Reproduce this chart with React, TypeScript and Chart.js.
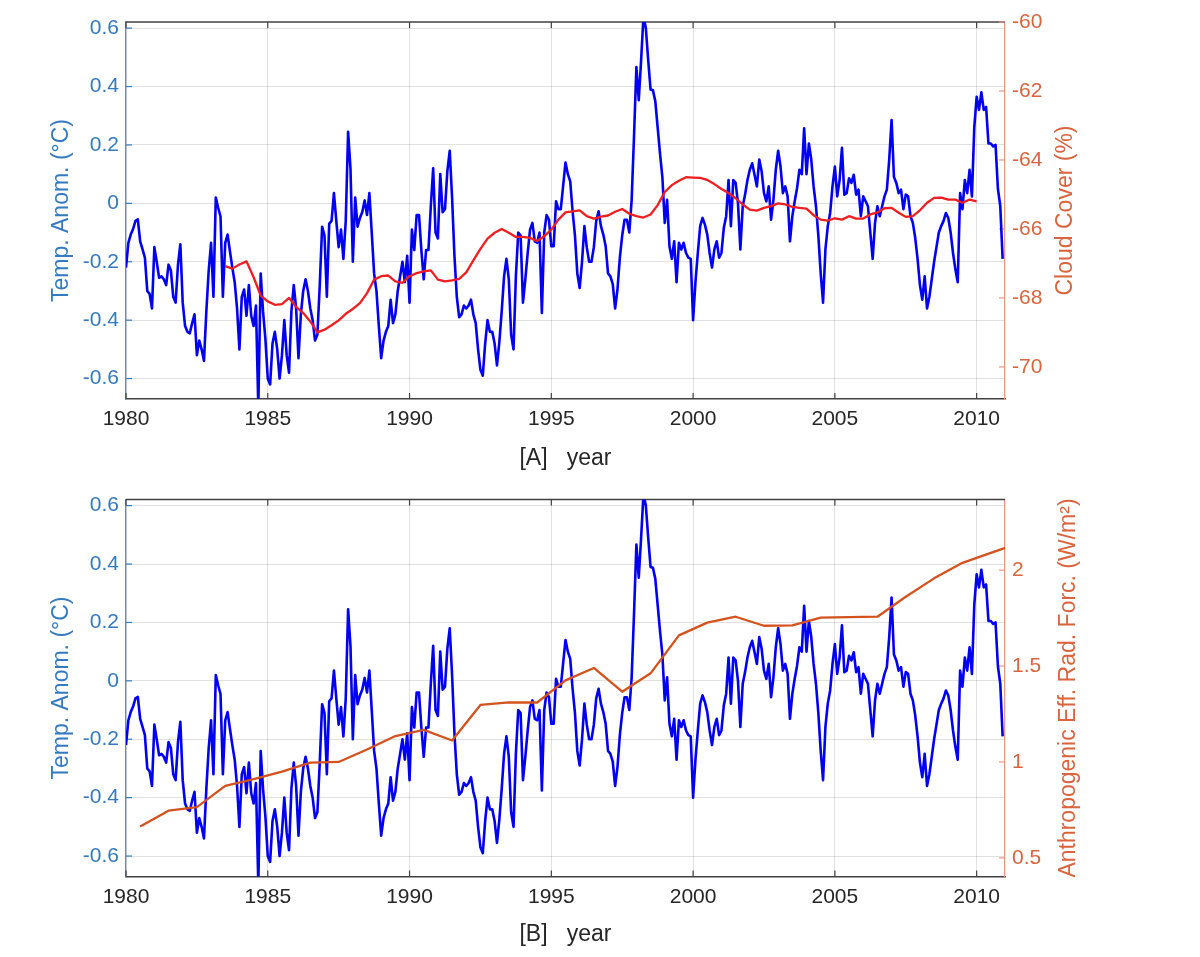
import { useEffect, useRef } from "react";
import { Chart, registerables } from "chart.js";

Chart.register(...registerables);

// Monthly global temperature anomaly (°C), Jan 1980 – Dec 2010
const FIRST_YEAR = 1980;
const tempAnomaly: number[] = [
  // 1980
  -0.22, -0.135, -0.107, -0.088, -0.06, -0.055, -0.13, -0.158, -0.186, -0.3, -0.31, -0.36,
  // 1981
  -0.15, -0.2, -0.255, -0.25, -0.26, -0.28, -0.21, -0.23, -0.32, -0.34, -0.21, -0.14,
  // 1982
  -0.34, -0.42, -0.44, -0.445, -0.41, -0.38, -0.52, -0.47, -0.5, -0.54, -0.37, -0.23,
  // 1983
  -0.135, -0.32, 0.02, -0.015, -0.045, -0.32, -0.135, -0.107, -0.165, -0.22, -0.27, -0.36,
  // 1984
  -0.5, -0.32, -0.295, -0.385, -0.28, -0.385, -0.42, -0.35, -0.7, -0.24, -0.37, -0.465,
  // 1985
  -0.6, -0.62, -0.48, -0.44, -0.5, -0.6, -0.52, -0.4, -0.52, -0.58, -0.37, -0.28,
  // 1986
  -0.36, -0.53, -0.38, -0.3, -0.26, -0.3, -0.36, -0.4, -0.47, -0.45, -0.28, -0.08,
  // 1987
  -0.11, -0.32, -0.07, -0.06, 0.035, -0.06, -0.15, -0.09, -0.19, -0.06, 0.245, 0.12,
  // 1988
  -0.2, 0.02, -0.08, -0.05, -0.03, 0.01, -0.04, 0.035, -0.1, -0.24, -0.3, -0.42,
  // 1989
  -0.53, -0.47, -0.44, -0.42, -0.33, -0.41, -0.38, -0.3, -0.25, -0.2, -0.27, -0.18,
  // 1990
  -0.34, -0.09, -0.16, -0.04, -0.04, -0.16, -0.26, -0.16, -0.16, -0.01, 0.12, -0.1,
  // 1991
  -0.12, 0.1, -0.03, -0.02, 0.11, 0.18, 0.02, -0.18, -0.32, -0.39, -0.38, -0.35,
  // 1992
  -0.36, -0.35, -0.33, -0.38, -0.41, -0.5, -0.57, -0.59, -0.48, -0.4, -0.44, -0.44,
  // 1993
  -0.48, -0.555, -0.475, -0.37, -0.25, -0.19, -0.26, -0.45, -0.5, -0.25, -0.1, -0.11,
  // 1994
  -0.34, -0.26, -0.17, -0.09, -0.067, -0.13, -0.135, -0.1, -0.375, -0.1, -0.04, -0.056,
  // 1995
  -0.147, -0.147, 0.007, -0.02, -0.02, 0.06, 0.14, 0.1, 0.075, -0.027, -0.11, -0.24,
  // 1996
  -0.29, -0.2, -0.078, -0.15, -0.2, -0.2, -0.15, -0.06, -0.027, -0.078, -0.107, -0.147,
  // 1997
  -0.24, -0.25, -0.277, -0.36, -0.295, -0.186, -0.11, -0.056, -0.056, -0.1, 0.012, 0.23,
  // 1998
  0.467, 0.353, 0.49, 0.64, 0.6, 0.49, 0.39, 0.387, 0.35, 0.26, 0.17, 0.09,
  // 1999
  -0.067, 0.012, -0.147, -0.19, -0.13, -0.27, -0.135, -0.158, -0.135, -0.17, -0.186, -0.19,
  // 2000
  -0.4, -0.27, -0.17, -0.078, -0.05, -0.073, -0.107, -0.17, -0.22, -0.158, -0.13, -0.186,
  // 2001
  -0.17, -0.084, -0.044, 0.08, -0.078, 0.08, 0.07, 0.0, -0.158, -0.01, 0.03, 0.08,
  // 2002
  0.115, 0.137, 0.098, 0.058, 0.15, 0.11, 0.035, 0.007, 0.058, -0.056, 0.012, 0.115,
  // 2003
  0.18, 0.126, 0.035, 0.058, 0.024, -0.13, -0.044, 0.007, 0.052, 0.115, 0.1, 0.257,
  // 2004
  0.1, 0.205, 0.15, 0.058, -0.01, -0.11, -0.24, -0.34, -0.158, -0.078, -0.033, 0.058,
  // 2005
  0.126, 0.024, 0.08, 0.19, 0.03, 0.035, 0.086, 0.07, 0.098, 0.03, 0.047, -0.044,
  // 2006
  0.024, 0.007, -0.01, -0.1, -0.19, -0.067, -0.01, -0.044, -0.01, 0.024, 0.047, 0.15,
  // 2007
  0.285, 0.09, 0.07, 0.035, 0.047, -0.02, 0.03, 0.024, -0.044, -0.067, -0.118, -0.19,
  // 2008
  -0.28, -0.33, -0.25, -0.36, -0.32, -0.26, -0.2, -0.15, -0.1, -0.078, -0.06, -0.033,
  // 2009
  -0.05, -0.1, -0.17, -0.226, -0.27, 0.035, -0.02, 0.08, 0.035, 0.115, 0.024, 0.26,
  // 2010
  0.365, 0.32, 0.38, 0.32, 0.33, 0.205, 0.205, 0.195, 0.2, 0.05, -0.01, -0.19,
];

// Quarterly cloud cover (%), from mid-1983 to 2010
const CLOUD_START = 1983.5;
const CLOUD_STEP = 0.25;
const cloudCover: number[] = [
  -67.08, -67.15, -67.03, -66.94, -67.4, -67.93, -68.1, -68.2, -68.18, -68.0,
  -68.26, -68.44, -68.68, -69.0, -68.92, -68.79, -68.65, -68.46, -68.32, -68.15,
  -67.86, -67.47, -67.37, -67.35, -67.52, -67.56, -67.37, -67.28, -67.23, -67.2,
  -67.47, -67.52, -67.49, -67.45, -67.26, -66.91, -66.58, -66.28, -66.11, -66.0,
  -66.11, -66.23, -66.23, -66.26, -66.35, -66.21, -66.02, -65.73, -65.52, -65.49,
  -65.46, -65.63, -65.7, -65.64, -65.61, -65.5, -65.42, -65.56, -65.63, -65.67,
  -65.58, -65.31, -64.93, -64.73, -64.6, -64.5, -64.51, -64.52, -64.58, -64.7,
  -64.84, -64.96, -65.11, -65.29, -65.44, -65.47, -65.39, -65.34, -65.26, -65.29,
  -65.36, -65.39, -65.41, -65.6, -65.73, -65.76, -65.69, -65.73, -65.63, -65.7,
  -65.7, -65.58, -65.52, -65.4, -65.39, -65.53, -65.65, -65.63, -65.46, -65.24,
  -65.1, -65.09, -65.15, -65.15, -65.24, -65.15, -65.2,
];

// Annual anthropogenic effective radiative forcing (W/m²), plotted at mid-year
const forcingYears: number[] = [
  1980.5, 1981.5, 1982.5, 1983.5, 1984.5, 1985.5, 1986.5, 1987.5, 1988.5, 1989.5,
  1990.5, 1991.5, 1992.5, 1993.5, 1994.5, 1995.5, 1996.5, 1997.5, 1998.5, 1999.5,
  2000.5, 2001.5, 2002.5, 2003.5, 2004.5, 2005.5, 2006.5, 2007.5, 2008.5, 2009.5,
  2010.5, 2011.5,
];
const forcing: number[] = [
  0.663, 0.746, 0.765, 0.875, 0.91, 0.95, 0.997, 1.0, 1.065, 1.135,
  1.167, 1.112, 1.297, 1.311, 1.31, 1.425, 1.49, 1.366, 1.462, 1.66,
  1.726, 1.757, 1.71, 1.712, 1.752, 1.755, 1.757, 1.861, 1.957, 2.038,
  2.09, 2.14,
];

const yearTicks = [1980, 1985, 1990, 1995, 2000, 2005, 2010];
const tempTicks = [-0.6, -0.4, -0.2, 0, 0.2, 0.4, 0.6];
const cloudTicks = [-70, -68, -66, -64, -62, -60];
const forcingTicks = [0.5, 1, 1.5, 2];

const FONT = '"Liberation Sans", Arial, Helvetica, sans-serif';
const LEFT_COLOR = "#347abe";
const AXIS_GRAY = "#404040";
const GRID = "rgba(40,40,40,0.14)";

type PanelSpec = {
  height: number;
  padTop: number;
  xTitle: string;
  xTitlePad: number;
  rightLabel: string;
  rightColor: string;
  rightTickColor: string;
  rightSpine: string;
  rightTicks: number[];
  rightMin: number;
  rightMax: number;
  rightTitleOffset: number;
  rightPoints: { x: number; y: number }[];
  rightWidth: number;
};

// Draws the MATLAB-style box: top frame line, inward tick marks and the
// right-hand axis title that reads bottom-to-top.
const boxAxes = {
  id: "boxAxes",
  beforeDatasetsDraw(chart: any, _args: any, opts: any) {
    const { ctx, chartArea, scales } = chart;
    const { left, right, top, bottom } = chartArea;
    const tl = 6;
    ctx.save();
    ctx.lineWidth = 1.5;
    ctx.strokeStyle = AXIS_GRAY;
    ctx.beginPath();
    ctx.moveTo(left, top);
    ctx.lineTo(right, top);
    ctx.stroke();
    ctx.lineWidth = 1.2;
    scales.x.ticks.forEach((t: any) => {
      const px = scales.x.getPixelForValue(t.value);
      ctx.beginPath();
      ctx.moveTo(px, bottom);
      ctx.lineTo(px, bottom - tl);
      ctx.moveTo(px, top);
      ctx.lineTo(px, top + tl);
      ctx.stroke();
    });
    ctx.strokeStyle = LEFT_COLOR;
    scales.yL.ticks.forEach((t: any) => {
      const py = scales.yL.getPixelForValue(t.value);
      ctx.beginPath();
      ctx.moveTo(left, py);
      ctx.lineTo(left + tl, py);
      ctx.stroke();
    });
    ctx.strokeStyle = opts.tickColor;
    scales.yR.ticks.forEach((t: any) => {
      const py = scales.yR.getPixelForValue(t.value);
      ctx.beginPath();
      ctx.moveTo(right, py);
      ctx.lineTo(right - tl, py);
      ctx.stroke();
    });
    ctx.translate(right + opts.titleOffset, (top + bottom) / 2);
    ctx.rotate(-Math.PI / 2);
    ctx.fillStyle = opts.titleColor;
    ctx.font = `23px ${FONT}`;
    ctx.textAlign = "center";
    ctx.textBaseline = "middle";
    ctx.fillText(opts.title, 0, 0);
    ctx.restore();
  },
};

function buildConfig(spec: PanelSpec): any {
  const tempPoints = tempAnomaly.map((v, i) => ({ x: FIRST_YEAR + i / 12, y: v }));
  return {
    type: "line",
    data: {
      datasets: [
        {
          data: spec.rightPoints,
          xAxisID: "x",
          yAxisID: "yR",
          borderColor: spec.rightColor,
          borderWidth: 2.3,
          pointRadius: 0,
          tension: 0,
          borderJoinStyle: "round",
          order: 1,
        },
        {
          data: tempPoints,
          xAxisID: "x",
          yAxisID: "yL",
          borderColor: "#0000f2",
          borderWidth: 2.6,
          pointRadius: 0,
          tension: 0,
          borderJoinStyle: "round",
          order: 2,
        },
      ],
    },
    options: {
      responsive: false,
      animation: false,
      devicePixelRatio: 1,
      layout: { padding: { top: spec.padTop, left: 0, right: 0, bottom: 0 } },
      plugins: {
        legend: { display: false },
        tooltip: { enabled: false },
        boxAxes: {
          title: spec.rightLabel,
          titleColor: spec.rightTickColor,
          tickColor: spec.rightSpine,
          titleOffset: spec.rightTitleOffset,
        },
      },
      scales: {
        x: {
          type: "linear",
          position: "bottom",
          min: 1980,
          max: 2011,
          afterBuildTicks: (s: any) => {
            s.ticks = yearTicks.map((v) => ({ value: v }));
          },
          afterFit: (s: any) => {
            s.height = spec.height - spec.padTop - 377;
          },
          grid: { color: GRID, drawTicks: false, lineWidth: 1 },
          border: { color: AXIS_GRAY, width: 1.5 },
          ticks: {
            autoSkip: false,
            maxRotation: 0,
            padding: 8,
            color: "#262626",
            font: { family: FONT, size: 21 },
            callback: (v: number) => String(v),
          },
          title: {
            display: true,
            text: spec.xTitle,
            color: "#262626",
            font: { family: FONT, size: 23 },
            padding: { top: 0, bottom: spec.xTitlePad },
          },
        },
        yL: {
          type: "linear",
          position: "left",
          min: -0.67,
          max: 0.621,
          afterBuildTicks: (s: any) => {
            s.ticks = tempTicks.map((v) => ({ value: v }));
          },
          afterFit: (s: any) => {
            s.width = 126;
          },
          grid: { color: GRID, drawTicks: false, lineWidth: 1 },
          border: { color: "#5a8fca", width: 1.3 },
          ticks: {
            padding: 7,
            color: LEFT_COLOR,
            font: { family: FONT, size: 21 },
            callback: (v: number) => String(v),
          },
          title: {
            display: true,
            text: "Temp. Anom. (°C)",
            color: LEFT_COLOR,
            font: { family: FONT, size: 23 },
            padding: { top: 48, bottom: 0 },
          },
        },
        yR: {
          type: "linear",
          position: "right",
          min: spec.rightMin,
          max: spec.rightMax,
          afterBuildTicks: (s: any) => {
            s.ticks = spec.rightTicks.map((v) => ({ value: v }));
          },
          afterFit: (s: any) => {
            s.width = spec.rightWidth;
          },
          grid: { display: false, drawTicks: false },
          border: { color: spec.rightSpine, width: 1.3 },
          ticks: {
            padding: 7,
            color: spec.rightTickColor,
            font: { family: FONT, size: 21 },
            callback: (v: number) => String(v),
          },
        },
      },
    },
    plugins: [boxAxes],
  };
}

function Panel({ spec, top }: { spec: PanelSpec; top: number }) {
  const ref = useRef<HTMLCanvasElement | null>(null);
  useEffect(() => {
    if (!ref.current) return;
    const chart = new Chart(ref.current, buildConfig(spec));
    return () => chart.destroy();
  }, [spec]);
  return (
    <canvas
      ref={ref}
      width={1200}
      height={spec.height}
      style={{ position: "absolute", left: 0, top, width: 1200, height: spec.height }}
    />
  );
}

const cloudPoints = cloudCover.map((v, i) => ({ x: CLOUD_START + i * CLOUD_STEP, y: v }));
const forcingPoints = forcing.map((v, i) => ({ x: forcingYears[i], y: v }));

const panelA: PanelSpec = {
  height: 478,
  padTop: 22,
  xTitle: "[A]   year",
  xTitlePad: 6,
  rightLabel: "Cloud Cover (%)",
  rightColor: "#f01e1e",
  rightTickColor: "#d9643e",
  rightSpine: "#e59a88",
  rightTicks: cloudTicks,
  rightMin: -70.93,
  rightMax: -60,
  rightTitleOffset: 61,
  rightPoints: cloudPoints,
  rightWidth: 195,
};

const panelB: PanelSpec = {
  height: 479,
  padTop: 21.5,
  xTitle: "[B]   year",
  xTitlePad: 9,
  rightLabel: "Anthropogenic Eff. Rad. Forc. (W/m²)",
  rightColor: "#d3521d",
  rightTickColor: "#d9643e",
  rightSpine: "#e59a88",
  rightTicks: forcingTicks,
  rightMin: 0.403,
  rightMax: 2.368,
  rightTitleOffset: 64,
  rightPoints: forcingPoints,
  rightWidth: 195,
};

export default function App() {
  return (
    <div style={{ position: "absolute", left: 0, top: 0, width: 1200, height: 957, background: "#fff" }}>
      <Panel spec={panelA} top={0} />
      <Panel spec={panelB} top={478} />
    </div>
  );
}
